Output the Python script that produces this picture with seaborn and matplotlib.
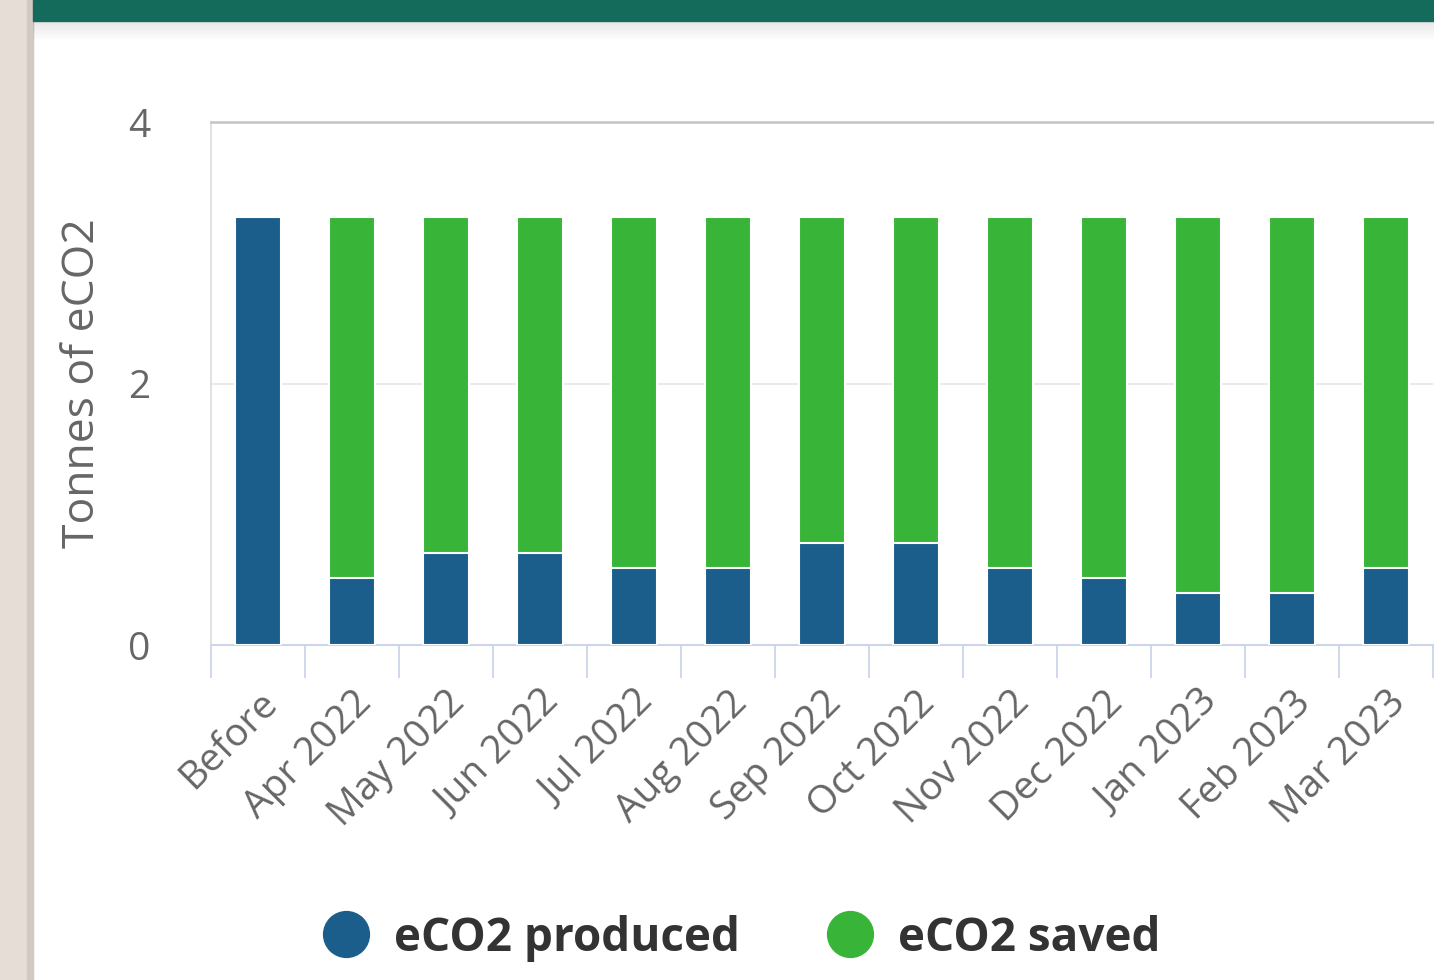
import matplotlib
matplotlib.use("Agg")
import matplotlib.pyplot as plt
import matplotlib.patches as mpatches
from matplotlib.lines import Line2D
import pandas as pd
import seaborn as sns

months = ["Before", "Apr 2022", "May 2022", "Jun 2022", "Jul 2022", "Aug 2022",
          "Sep 2022", "Oct 2022", "Nov 2022", "Dec 2022", "Jan 2023", "Feb 2023",
          "Mar 2023"]
produced = [3.27, 0.51, 0.70, 0.70, 0.59, 0.59, 0.78, 0.78, 0.59, 0.51, 0.40, 0.40, 0.59]
saved = [0.0, 2.76, 2.57, 2.57, 2.68, 2.68, 2.49, 2.49, 2.68, 2.76, 2.87, 2.87, 2.68]

blue = "#1b5e8c"
green = "#38b538"

datos = pd.DataFrame({"Month": months, "Produced": produced, "Saved": saved})
datos["Total"] = datos["Produced"] + datos["Saved"]

sns.set_style("white")
plt.rcParams["font.family"] = ["Open Sans", "DejaVu Sans"]

fig = plt.figure(figsize=(14.34, 9.8), dpi=100)

# page background bits: beige strip left, teal header top
fig.patches.append(mpatches.Rectangle((0, 0), 33 / 1434, 1, transform=fig.transFigure,
                                      color="#e6ded6", zorder=0))
fig.patches.append(mpatches.Rectangle((27 / 1434, 0), 6 / 1434, 1, transform=fig.transFigure,
                                      color="#d2c9c0", zorder=0))
for i in range(14):
    fig.patches.append(mpatches.Rectangle((33 / 1434, 1 - (21 + i * 1.5) / 980), 1, 1.5 / 980,
                                          transform=fig.transFigure, color="#000000",
                                          alpha=0.10 * (1 - i / 14), lw=0, zorder=1))
fig.patches.append(mpatches.Rectangle((33 / 1434, 1 - 21 / 980), 1, 21 / 980,
                                      transform=fig.transFigure, color="#146b5c", zorder=2))

ax = fig.add_axes([211 / 1434, 1 - 645 / 980, (1433 - 211) / 1434, (645 - 122) / 980])

sns.barplot(data=datos, x="Month", y="Total", color=green, width=0.49,
            edgecolor="white", linewidth=1.5, saturation=1, ax=ax, zorder=3)
sns.barplot(data=datos, x="Month", y="Produced", color=blue, width=0.49,
            edgecolor="white", linewidth=1.5, saturation=1, ax=ax, zorder=4)

ax.set_xlim(-0.5, len(months) - 0.5)
ax.set_ylim(0, 4)
ax.set_yticks([0, 2, 4])
ax.yaxis.grid(True, color="#e6e6e6", lw=1.2)
ax.set_axisbelow(True)

ax.spines["right"].set_visible(False)
ax.spines["top"].set_color("#c4c4c4")
ax.spines["top"].set_linewidth(1.8)
ax.spines["left"].set_color("#dcdcdc")
ax.spines["left"].set_linewidth(1.2)
ax.spines["bottom"].set_color("#ccd6eb")
ax.spines["bottom"].set_linewidth(1.5)

ax.set_xticks(range(len(months)))
ax.set_xticks([i + 0.5 for i in range(-1, len(months))], minor=True)
ax.tick_params(axis="x", which="minor", bottom=True, length=24, width=1.3, color="#ccd6eb")
ax.tick_params(axis="x", which="major", bottom=False, length=0, pad=28)
ax.tick_params(axis="y", length=0, pad=44, labelsize=28, labelcolor="#666666")
ax.set_xticklabels(months, rotation=45, ha="right", rotation_mode="anchor",
                   fontsize=28, color="#666666")

ax.set_xlabel("")
ax.set_ylabel("Tonnes of eCO2", fontsize=32, color="#666666", labelpad=16)

handles = [Line2D([], [], marker="o", ls="", color=blue, markersize=33),
           Line2D([], [], marker="o", ls="", color=green, markersize=33)]
leg = fig.legend(handles, ["eCO2 produced", "eCO2 saved"], loc="center",
                 bbox_to_anchor=(742 / 1434, 1 - 938 / 980), ncol=2, frameon=False,
                 prop={"size": 33, "weight": "bold"}, handletextpad=0.55,
                 columnspacing=1.9, handlelength=1.0)
for t in leg.get_texts():
    t.set_color("#333333")

fig.savefig("out.png", dpi=100)
